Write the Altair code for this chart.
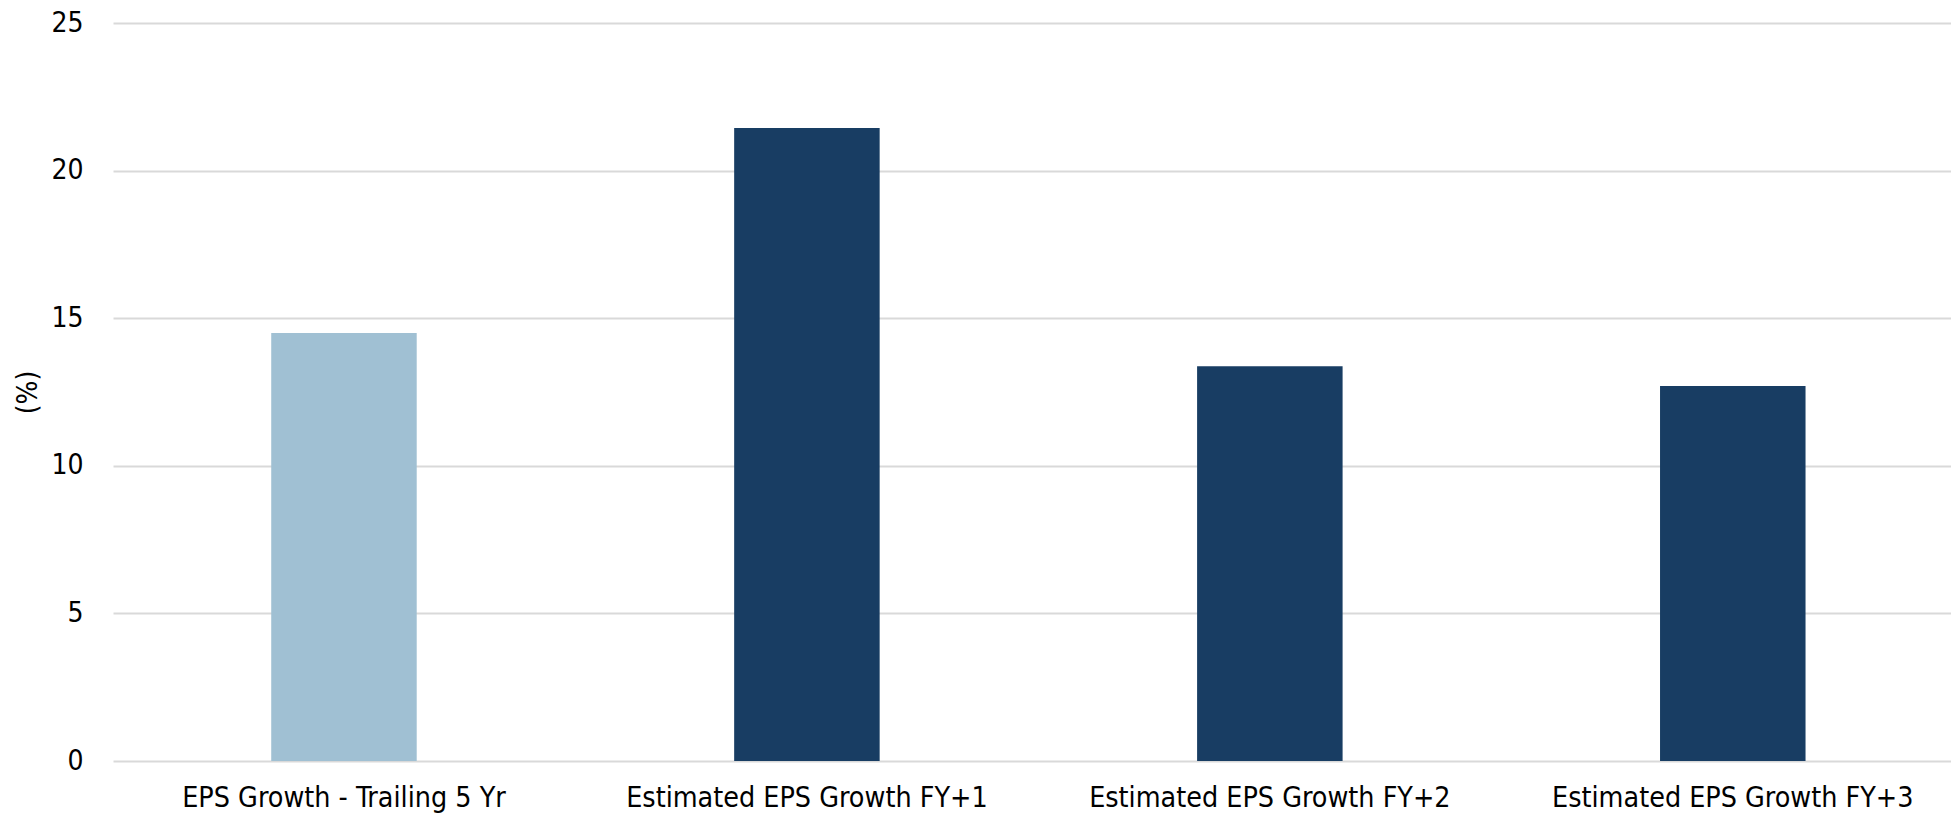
import altair as alt
import pandas as pd

categories = [
    "EPS Growth - Trailing 5 Yr",
    "Estimated EPS Growth FY+1",
    "Estimated EPS Growth FY+2",
    "Estimated EPS Growth FY+3",
]
values = [14.50, 21.44, 13.37, 12.70]
kinds = ["trailing", "estimate", "estimate", "estimate"]
y_ticks = [0, 5, 10, 15, 20, 25]

df = pd.DataFrame({"cat": categories, "val": values, "kind": kinds})

FONT = "Tahoma, 'DejaVu Sans Condensed', 'Liberation Sans', sans-serif"

chart = (
    alt.Chart(df)
    .mark_bar()
    .encode(
        x=alt.X(
            "cat:N",
            sort=categories,
            title=None,
            scale=alt.Scale(paddingInner=0.6857, paddingOuter=0.328, align=0.521, round=False),
            axis=alt.Axis(
                labelAngle=0,
                ticks=False,
                domain=False,
                labelFontSize=28.4,
                labelFont=FONT,
                labelColor="#000000",
                labelPadding=23,
                labelLimit=0,
                grid=False,
            ),
        ),
        y=alt.Y(
            "val:Q",
            title="(%)",
            scale=alt.Scale(domain=[0, 25], nice=False),
            axis=alt.Axis(
                values=y_ticks,
                ticks=False,
                domain=False,
                grid=True,
                gridColor="#D9D9D9",
                gridWidth=2,
                labelFontSize=28,
                labelFont=FONT,
                labelColor="#000000",
                labelPadding=30,
                titleFontSize=28,
                titleFont=FONT,
                titleFontWeight="normal",
                titleColor="#000000",
                titlePadding=8,
            ),
        ),
        color=alt.Color(
            "kind:N",
            scale=alt.Scale(domain=["trailing", "estimate"], range=["#A0C0D3", "#183D63"]),
            legend=None,
        ),
    )
    .properties(
        width=1838,
        height=738,
        background="#FFFFFF",
        autosize=alt.AutoSizeParams(type="none"),
        padding={"left": 113, "top": 23, "right": 0, "bottom": 56},
    )
    .configure_view(stroke=None, strokeWidth=0)
)

chart.save("out.html", embed_options={"renderer": "svg", "actions": False})
